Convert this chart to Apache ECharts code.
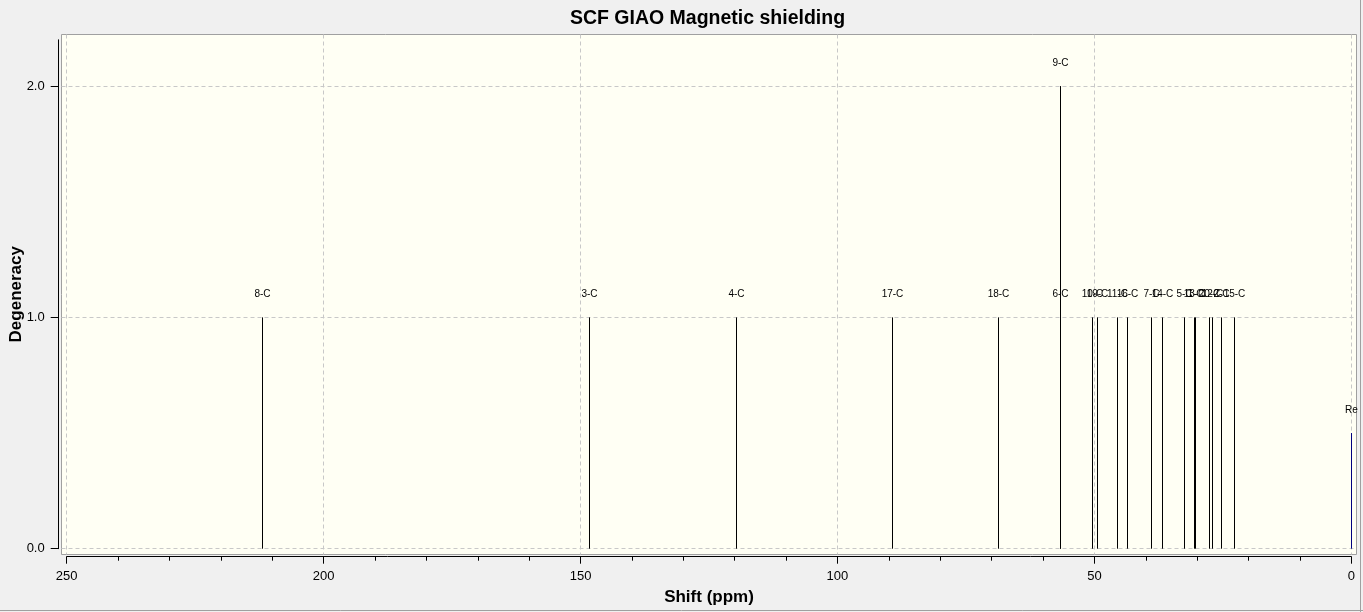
<!DOCTYPE html>
<html>
<head>
<meta charset="utf-8">
<script src="https://cdn.jsdelivr.net/npm/echarts@6/dist/echarts.min.js"></script>
<style>
  html, body { margin: 0; padding: 0; background: #f0f0f0; }
  #chart { width: 1363px; height: 612px; }
</style>
</head>
<body>
<div id="chart"></div>
<script>
// peaks (ppm, degeneracy level, atom label)
const shifts = [212.0, 148.45, 119.74, 89.38, 68.76, 56.69, 56.69, 50.52, 49.55, 45.54,
  43.59, 39.04, 36.78, 32.50, 30.67, 30.42, 27.75, 27.05, 25.30, 22.77]
const degeneracy = [1, 1, 1, 1, 1, 1, 2, 1, 1, 1, 1, 1, 1, 1, 1, 1, 1, 1, 1, 1]
const atomLabels = ['8-C', '3-C', '4-C', '17-C', '18-C', '6-C', '9-C', '10-C', '19-C', '11-C',
  '16-C', '7-C', '14-C', '5-C', '13-C', '1-C', '20-C', '12-C', '2-C', '15-C']
const refShift = [0]
const refValue = [0.5]
const refLabel = ['Re']
const xTicks = [0, 50, 100, 150, 200, 250]
const yTicks = [0, 1, 2]

const font = '"Liberation Sans", Arial, sans-serif'
const chart = echarts.init(document.getElementById('chart'))

// one stick per peak, snapped to a pixel column, with its label above
function stick(labels, color) {
  return function (params, api) {
    const x = api.value(0)
    const top = api.coord([x, api.value(1)])
    const base = api.coord([x, 0])
    const px = Math.round(top[0]) + 0.5
    return {
      type: 'group',
      children: [
        { type: 'line', shape: { x1: px, y1: base[1], x2: px, y2: top[1] },
          style: { stroke: color, lineWidth: 1 } },
        { type: 'text', x: px, y: top[1] - 18,
          style: { text: labels[params.dataIndex], align: 'center', verticalAlign: 'bottom',
            font: '10px ' + font, fill: '#000' } }
      ]
    }
  }
}

const gridLine = { show: true, lineStyle: { color: '#c8c8c8', type: [4, 3], width: 1 } }

const option = {
  backgroundColor: '#f0f0f0',
  animation: false,
  title: {
    text: 'SCF GIAO Magnetic shielding',
    left: 702.5,
    textAlign: 'center',
    top: 4,
    textStyle: { fontFamily: font, fontSize: 19.5, fontWeight: 'bold', color: '#000' }
  },
  grid: [
    // data grid: exact axis ranges
    { left: 66.7, right: 11.7, top: 39.8, bottom: 63.3, show: false, outerBoundsMode: 'none' },
    // plot box with background and dashed grid
    { left: 61.5, right: 6.5, top: 34.5, bottom: 57.5, show: true, outerBoundsMode: 'none',
      backgroundColor: '#fffff4', borderColor: '#a0a0a0', borderWidth: 1, z: -1 }
  ],
  xAxis: [
    {
      gridIndex: 0, type: 'value', min: 0, max: 250, interval: 50, inverse: true,
      name: 'Shift (ppm)', nameLocation: 'middle', nameGap: 32,
      nameTextStyle: { fontFamily: font, fontSize: 17, fontWeight: 'bold', color: '#000' },
      axisLine: { show: true, onZero: false, lineStyle: { color: '#000' } },
      offset: 8,
      axisTick: { show: true, length: 7, lineStyle: { color: '#000' } },
      minorTick: { show: true, splitNumber: 5, length: 4, lineStyle: { color: '#000' } },
      axisLabel: { fontFamily: font, fontSize: 13, color: '#000', margin: 13 },
      splitLine: { show: false }
    },
    {
      gridIndex: 1, type: 'value', min: -1.01, max: 251.01, inverse: true,
      axisLine: { show: false },
      axisTick: { show: false, customValues: xTicks },
      axisLabel: { show: false },
      splitLine: gridLine
    }
  ],
  yAxis: [
    {
      gridIndex: 0, type: 'value', min: 0, max: 2.2,
      name: 'Degeneracy', nameLocation: 'middle', nameGap: 34, nameMoveOverlap: false,
      nameTextStyle: { fontFamily: font, fontSize: 17, fontWeight: 'bold', color: '#000' },
      axisLine: { show: true, onZero: false, lineStyle: { color: '#000' } },
      offset: 8,
      axisTick: { show: true, length: 8, customValues: yTicks, lineStyle: { color: '#000' } },
      axisLabel: { fontFamily: font, fontSize: 13, color: '#000', margin: 14,
        customValues: yTicks, formatter: v => v.toFixed(1) },
      splitLine: { show: false }
    },
    {
      gridIndex: 1, type: 'value', min: -0.025, max: 2.223,
      axisLine: { show: false },
      axisTick: { show: false, customValues: yTicks },
      axisLabel: { show: false },
      splitLine: gridLine
    }
  ],
  series: [
    {
      name: 'C', type: 'custom', xAxisIndex: 0, yAxisIndex: 0,
      renderItem: stick(atomLabels, '#000'),
      encode: { x: 0, y: 1 },
      data: shifts.map((s, i) => [s, degeneracy[i]])
    },
    {
      name: 'Ref', type: 'custom', xAxisIndex: 0, yAxisIndex: 0,
      renderItem: stick(refLabel, '#000080'),
      encode: { x: 0, y: 1 },
      data: refShift.map((s, i) => [s, refValue[i]])
    }
  ],
  graphic: [
    { type: 'line', shape: { x1: 1360.5, y1: 0, x2: 1360.5, y2: 612 }, style: { stroke: '#a0a0a0', lineWidth: 1 } },
    { type: 'line', shape: { x1: 0, y1: 610.5, x2: 1363, y2: 610.5 }, style: { stroke: '#a0a0a0', lineWidth: 1 } }
  ]
}

chart.setOption(option)
</script>
</body>
</html>
